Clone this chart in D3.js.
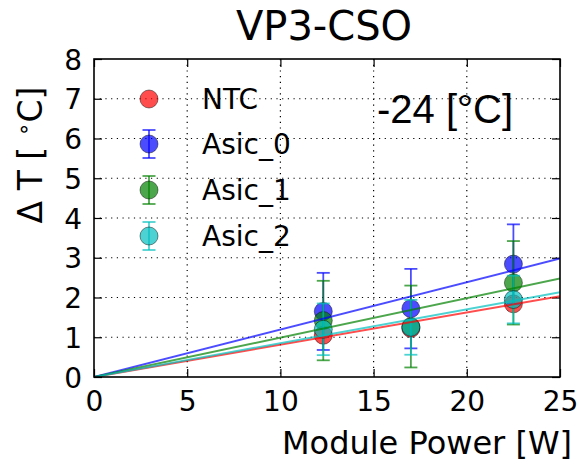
<!DOCTYPE html>
<html><head><meta charset="utf-8">
<script src="https://cdn.jsdelivr.net/npm/d3@7"></script>
<style>body{margin:0;background:#fff;} svg{display:block;}</style>
</head><body><svg id="c" width="581" height="464"></svg>
<script>
const title = "VP3-CSO";
const annotation = "-24 [°C]";
const xTicks = [0, 5, 10, 15, 20, 25];
const yTicks = [0, 1, 2, 3, 4, 5, 6, 7, 8];
const seriesNames = ["NTC", "Asic_0", "Asic_1", "Asic_2"];
const seriesColors = ["#ff0000", "#0000ff", "#008000", "#00bfbf"];
const power = [12.3, 17.0, 22.5];
const ntc = [1.05, 1.22, 1.84];
const asic0 = [1.65, 1.72, 2.84];
const asic0Err = [0.97, 1.0, 1.0];
const asic1 = [1.42, 1.27, 2.37];
const asic1Err = [1.0, 1.03, 1.05];
const asic2 = [1.2, 1.25, 1.95];
const asic2Err = [0.65, 0.69, 0.6];
const fitX = [0, 25];
const fitNtc = [0, 2.03];
const fitAsic0 = [0, 2.98];
const fitAsic1 = [0, 2.48];
const fitAsic2 = [0, 2.13];

const series = [
  {vals: ntc, err: null, fit: fitNtc},
  {vals: asic0, err: asic0Err, fit: fitAsic0},
  {vals: asic1, err: asic1Err, fit: fitAsic1},
  {vals: asic2, err: asic2Err, fit: fitAsic2}
];

const svg = d3.select("#c");
const L = 94, R = 560, T = 59, B = 377;
const x = d3.scaleLinear().domain([0, 25]).range([L, R]);
const y = d3.scaleLinear().domain([0, 8]).range([B, T]);
const font = "DejaVu Sans, sans-serif";

// grid
const grid = svg.append("g").attr("stroke", "#000").attr("stroke-width", 1.2).attr("stroke-dasharray", "1.2,4.5");
grid.selectAll(".gx").data(xTicks.slice(1, -1)).enter().append("line")
  .attr("x1", d => x(d)).attr("x2", d => x(d)).attr("y1", T).attr("y2", B);
grid.selectAll(".gy").data(yTicks.slice(1, -1)).enter().append("line")
  .attr("y1", d => y(d)).attr("y2", d => y(d)).attr("x1", L).attr("x2", R);

// axes with inside ticks
const tl = 8;
const axB = svg.append("g").attr("transform", `translate(0,${B})`)
  .call(d3.axisBottom(x).tickValues(xTicks).tickSizeInner(-tl).tickSizeOuter(0).tickPadding(14));
const axT = svg.append("g").attr("transform", `translate(0,${T})`)
  .call(d3.axisTop(x).tickValues(xTicks).tickSizeInner(-tl).tickSizeOuter(0).tickFormat(""));
const axL = svg.append("g").attr("transform", `translate(${L},0)`)
  .call(d3.axisLeft(y).tickValues(yTicks).tickSizeInner(-tl).tickSizeOuter(0).tickPadding(12));
const axR = svg.append("g").attr("transform", `translate(${R},0)`)
  .call(d3.axisRight(y).tickValues(yTicks).tickSizeInner(-tl).tickSizeOuter(0).tickFormat(""));
[axB, axT, axL, axR].forEach(a => {
  a.select(".domain").remove();
  a.selectAll("line").attr("stroke", "#000").attr("stroke-width", 1.2);
  a.selectAll("text").attr("font-family", font).attr("font-size", 28).attr("fill", "#000");
});
axB.selectAll("text").attr("dy", "0.71em");
axL.selectAll("text").attr("dy", "0.36em");

// data
const clip = svg.append("clipPath").attr("id", "clp").append("rect")
  .attr("x", L).attr("y", T).attr("width", R - L).attr("height", B - T);
const dataG = svg.append("g").attr("clip-path", "url(#clp)");
const capW = 6.5, rad = 9;
series.forEach((s, i) => {
  const g = dataG.append("g");
  const col = seriesColors[i];
  if (s.err) {
    power.forEach((p, k) => {
      const lo = s.vals[k] - s.err[k], hi = s.vals[k] + s.err[k];
      g.append("line").attr("x1", x(p)).attr("x2", x(p)).attr("y1", y(lo)).attr("y2", y(hi))
        .attr("stroke", col).attr("stroke-width", 1.8).attr("stroke-opacity", 0.7);
      [lo, hi].forEach(v => g.append("line").attr("x1", x(p) - capW).attr("x2", x(p) + capW)
        .attr("y1", y(v)).attr("y2", y(v)).attr("stroke", col).attr("stroke-width", 1.8).attr("stroke-opacity", 0.7));
    });
  }
  power.forEach((p, k) => {
    g.append("circle").attr("cx", x(p)).attr("cy", y(s.vals[k])).attr("r", rad)
      .attr("fill", col).attr("fill-opacity", 0.7)
      .attr("stroke", "#000").attr("stroke-opacity", 0.45).attr("stroke-width", 1);
  });
});
series.forEach((s, i) => {
  dataG.append("line").attr("x1", x(fitX[0])).attr("y1", y(s.fit[0]))
    .attr("x2", x(fitX[1])).attr("y2", y(s.fit[1]))
    .attr("stroke", seriesColors[i]).attr("stroke-width", 2).attr("stroke-opacity", 0.7);
});

// frame
svg.append("rect").attr("x", L).attr("y", T).attr("width", R - L).attr("height", B - T)
  .attr("fill", "none").attr("stroke", "#000").attr("stroke-width", 1.6);

// legend
const legY = [99, 144, 190, 236];
seriesNames.forEach((n, i) => {
  const cx = 149, cy = legY[i], col = seriesColors[i];
  if (i > 0) {
    svg.append("line").attr("x1", cx).attr("x2", cx).attr("y1", cy - 14).attr("y2", cy + 14)
      .attr("stroke", col).attr("stroke-width", 1.8).attr("stroke-opacity", 0.7);
    [cy - 14, cy + 14].forEach(v => svg.append("line").attr("x1", cx - capW).attr("x2", cx + capW)
      .attr("y1", v).attr("y2", v).attr("stroke", col).attr("stroke-width", 1.8).attr("stroke-opacity", 0.7));
  }
  svg.append("circle").attr("cx", cx).attr("cy", cy).attr("r", rad)
    .attr("fill", col).attr("fill-opacity", 0.7)
    .attr("stroke", "#000").attr("stroke-opacity", 0.45).attr("stroke-width", 1);
  svg.append("text").attr("x", 202).attr("y", cy).attr("dy", "0.36em")
    .attr("font-family", font).attr("font-size", 28).attr("fill", "#000").text(n);
});

// title & labels
svg.append("text").attr("x", 324).attr("y", 40).attr("text-anchor", "middle")
  .attr("font-family", font).attr("font-size", 40).attr("fill", "#000").text(title);
svg.append("text").attr("x", 572).attr("y", 454).attr("text-anchor", "end")
  .attr("font-family", font).attr("font-size", 32).attr("fill", "#000").text("Module Power [W]");
const yl = svg.append("text").attr("transform", "translate(42,155) rotate(-90)").attr("text-anchor", "middle")
  .attr("font-family", font).attr("font-size", 33).attr("fill", "#000");
yl.append("tspan").text("Δ T [ ");
yl.append("tspan").attr("font-size", 22).attr("dy", -11).text("∘");
yl.append("tspan").attr("dy", 11).text("C]");
svg.append("text").attr("x", 377).attr("y", 123)
  .attr("font-family", "Liberation Sans, Arial, sans-serif").attr("font-size", 40).attr("fill", "#000").text(annotation);
</script></body></html>
